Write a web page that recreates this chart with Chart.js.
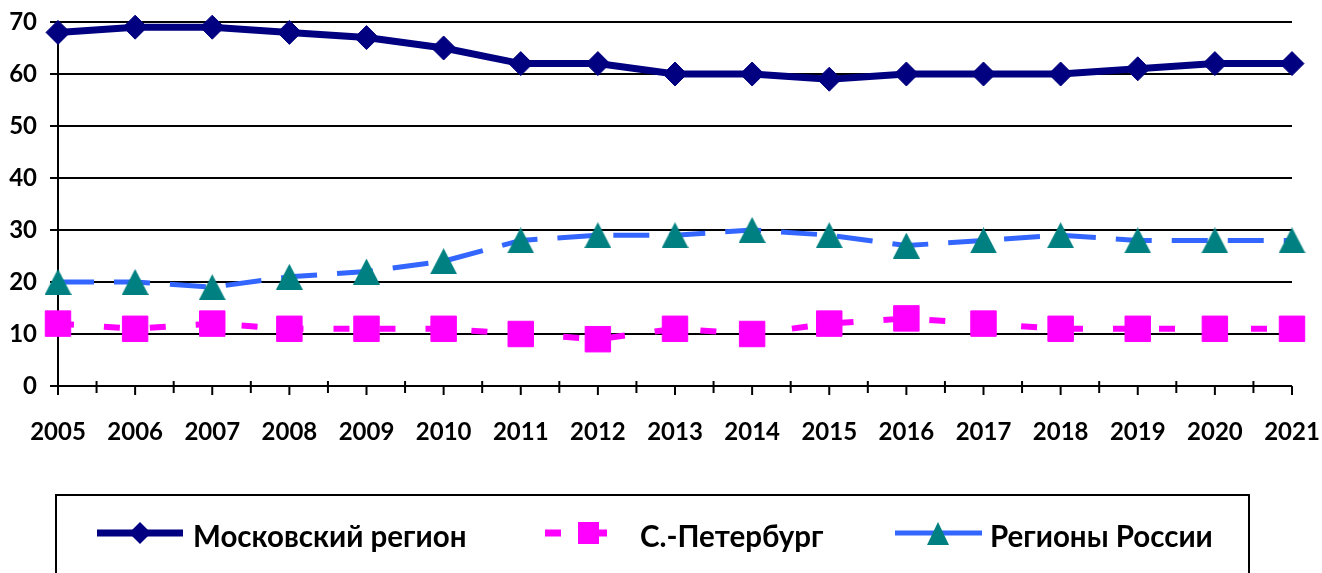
<!DOCTYPE html>
<html>
<head>
<meta charset="utf-8">
<script src="https://cdn.jsdelivr.net/npm/chart.js@4.4.1/dist/chart.umd.min.js"></script>
<style>
  html, body { margin: 0; padding: 0; background: #fff; }
  #wrap { position: relative; width: 1322px; height: 573px; }
</style>
</head>
<body>
<div id="wrap"><canvas id="c" width="1322" height="573"></canvas></div>
<script>
const years = ['2005','2006','2007','2008','2009','2010','2011','2012','2013','2014','2015','2016','2017','2018','2019','2020','2021'];
const moscow = [68, 69, 69, 68, 67, 65, 62, 62, 60, 60, 59, 60, 60, 60, 61, 62, 62];
const spb = [12, 11, 12, 11, 11, 11, 10, 9, 11, 10, 12, 13, 12, 11, 11, 11, 11];
const regions = [20, 20, 19, 21, 22, 24, 28, 29, 29, 30, 29, 27, 28, 29, 28, 28, 28];
const yTicks = [0, 10, 20, 30, 40, 50, 60, 70];
const seriesNames = ['Московский регион', 'С.-Петербург', 'Регионы России'];

const FONT = 'Lato, "Open Sans", "DejaVu Sans", sans-serif';

function makeTriangle(w, h, color) {
  const cv = document.createElement('canvas');
  cv.width = w; cv.height = h;
  const c = cv.getContext('2d');
  c.fillStyle = color;
  c.beginPath();
  c.moveTo(w / 2, 0); c.lineTo(w, h); c.lineTo(0, h); c.closePath();
  c.fill();
  return cv;
}
const triMarker = makeTriangle(27, 26, '#008080');

const xTickPlugin = {
  id: 'xTicks',
  afterDraw(chart) {
    const ctx = chart.ctx;
    const xs = chart.scales.x;
    const bottom = chart.chartArea.bottom;
    ctx.save();
    ctx.strokeStyle = '#000';
    ctx.lineWidth = 2;
    for (let i = 0; i < years.length; i++) {
      const x = xs.getPixelForValue(i);
      ctx.beginPath();
      ctx.moveTo(x, bottom);
      ctx.lineTo(x, bottom + 9);
      ctx.stroke();
      if (i < years.length - 1) {
        const xm = (x + xs.getPixelForValue(i + 1)) / 2;
        ctx.beginPath();
        ctx.moveTo(xm, bottom - 5);
        ctx.lineTo(xm, bottom + 7);
        ctx.stroke();
      }
    }
    ctx.restore();
  }
};

const legendPlugin = {
  id: 'customLegend',
  afterDraw(chart) {
    const ctx = chart.ctx;
    const ds = chart.data.datasets;
    ctx.save();
    ctx.strokeStyle = '#000';
    ctx.lineWidth = 2;
    ctx.strokeRect(56, 495, 1193, 100);
    const yc = 533;
    const base = 547;
    ctx.font = 'bold 29.5px ' + FONT;
    ctx.textBaseline = 'alphabetic';
    ctx.textAlign = 'left';

    // Moscow sample
    ctx.strokeStyle = ds[0].borderColor;
    ctx.lineWidth = 7;
    ctx.beginPath(); ctx.moveTo(97, yc); ctx.lineTo(183, yc); ctx.stroke();
    ctx.fillStyle = ds[0].pointBackgroundColor;
    ctx.beginPath();
    ctx.moveTo(140, yc - 11); ctx.lineTo(151, yc); ctx.lineTo(140, yc + 11); ctx.lineTo(129, yc); ctx.closePath();
    ctx.fill();
    ctx.fillStyle = '#000';
    ctx.fillText(seriesNames[0], 193, base);

    // SPb sample
    ctx.strokeStyle = ds[1].borderColor;
    ctx.lineWidth = 7;
    ctx.beginPath(); ctx.moveTo(545, yc); ctx.lineTo(561, yc); ctx.stroke();
    ctx.beginPath(); ctx.moveTo(595, yc); ctx.lineTo(607, yc); ctx.stroke();
    ctx.fillStyle = ds[1].pointBackgroundColor;
    ctx.fillRect(578, yc - 11, 21, 22);
    ctx.fillStyle = '#000';
    ctx.fillText(seriesNames[1], 640, base);

    // Regions sample
    ctx.strokeStyle = ds[2].borderColor;
    ctx.lineWidth = 5;
    ctx.beginPath(); ctx.moveTo(895, yc); ctx.lineTo(982, yc); ctx.stroke();
    ctx.fillStyle = '#008080';
    ctx.beginPath();
    ctx.moveTo(938, yc - 11); ctx.lineTo(949, yc + 12); ctx.lineTo(927, yc + 12); ctx.closePath();
    ctx.fill();
    ctx.fillStyle = '#000';
    ctx.fillText(seriesNames[2], 990, base);
    ctx.restore();
  }
};

new Chart(document.getElementById('c'), {
  type: 'line',
  data: {
    labels: years,
    datasets: [
      {
        label: seriesNames[0], data: moscow,
        borderColor: '#000080', backgroundColor: '#000080',
        borderWidth: 7, pointStyle: 'rectRot', pointRadius: 12,
        pointBackgroundColor: '#000080', pointBorderColor: '#000080', pointBorderWidth: 1,
        tension: 0, clip: false
      },
      {
        label: seriesNames[1], data: spb,
        borderColor: '#FF00FF', backgroundColor: '#FF00FF',
        borderWidth: 6, borderDash: [16, 30], pointStyle: 'rect', pointRadius: 18,
        pointBackgroundColor: '#FF00FF', pointBorderColor: '#FF00FF', pointBorderWidth: 1,
        tension: 0, clip: false
      },
      {
        label: seriesNames[2], data: regions,
        borderColor: '#3366FF', backgroundColor: '#3366FF',
        borderWidth: 5, borderDash: [36, 20], pointStyle: triMarker, pointRadius: 15,
        pointBackgroundColor: '#008080', pointBorderColor: '#008080', pointBorderWidth: 1,
        tension: 0, clip: false
      }
    ]
  },
  options: {
    responsive: false,
    animation: false,
    events: [],
    layout: { padding: { top: 22, right: 30, left: 0, bottom: 0 } },
    plugins: { legend: { display: false }, tooltip: { enabled: false }, title: { display: false } },
    scales: {
      x: {
        type: 'category',
        offset: false,
        grid: { display: false, drawTicks: false },
        border: { display: false },
        ticks: { color: '#000', font: { family: FONT, weight: 'bold', size: 24 }, padding: 32, maxRotation: 0, autoSkip: false },
        afterFit(s) { s.height = 187; s.paddingLeft = 0; s.paddingRight = 0; }
      },
      y: {
        min: 0, max: 70,
        afterBuildTicks(s) { s.ticks = yTicks.map(v => ({ value: v })); },
        grid: { color: '#000', lineWidth: 2, drawTicks: true, tickLength: 8, tickColor: '#000' },
        border: { display: true, color: '#000', width: 2 },
        ticks: { color: '#000', font: { family: FONT, weight: 'bold', size: 24 }, padding: 13 },
        afterFit(s) { s.width = 58; s.paddingTop = 0; s.paddingBottom = 0; }
      }
    }
  },
  plugins: [xTickPlugin, legendPlugin]
});
</script>
</body>
</html>
